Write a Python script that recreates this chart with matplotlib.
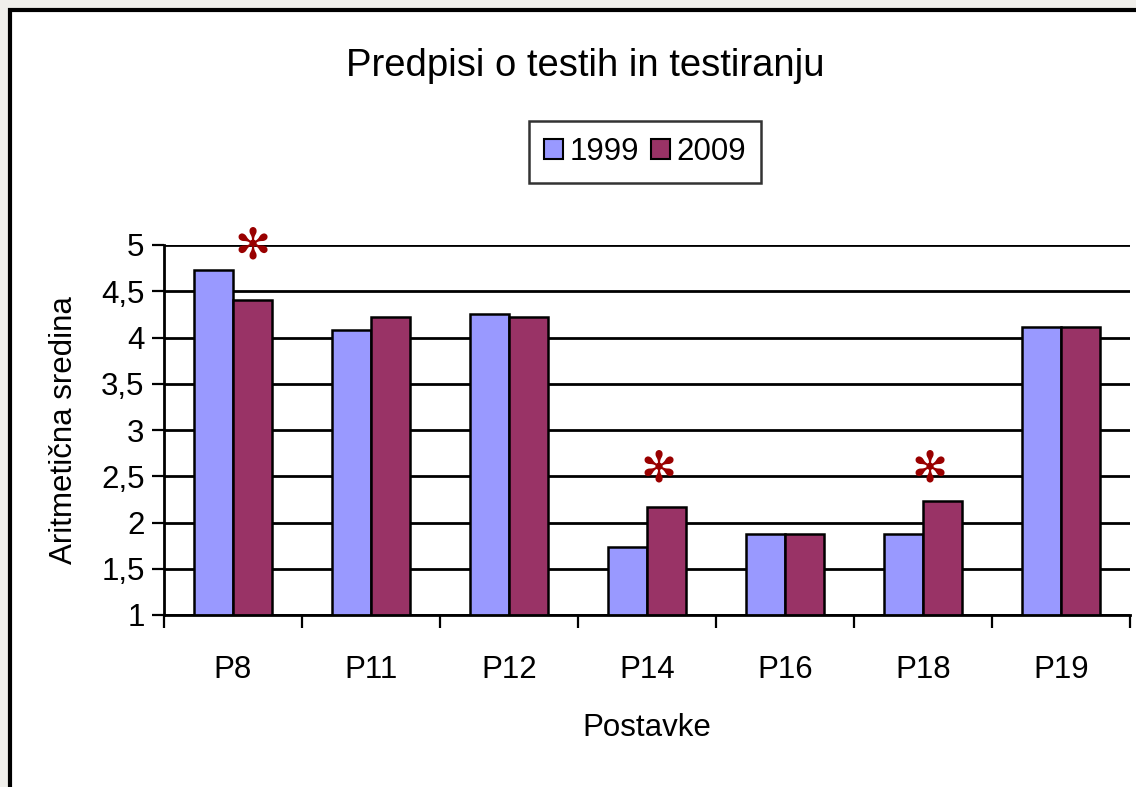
import matplotlib
matplotlib.use("Agg")
import matplotlib.pyplot as plt
from matplotlib.patches import Rectangle, Patch
import numpy as np

# data
categories = ["P8", "P11", "P12", "P14", "P16", "P18", "P19"]
vals_1999 = [4.73, 4.08, 4.25, 1.73, 1.88, 1.88, 4.11]
vals_2009 = [4.41, 4.22, 4.22, 2.17, 1.88, 2.23, 4.11]
series_names = ["1999", "2009"]
starred = ["P8", "P14", "P18"]   # significant differences
yticks = [1, 1.5, 2, 2.5, 3, 3.5, 4, 4.5, 5]
ytick_labels = ["1", "1,5", "2", "2,5", "3", "3,5", "4", "4,5", "5"]

c1999 = "#9999FF"
c2009 = "#993366"
star_color = "#990000"

plt.rcParams["font.family"] = ["Liberation Sans", "DejaVu Sans"]

W, H = 1136, 787
fig = plt.figure(figsize=(W / 100, H / 100), dpi=100)
fig.patch.set_facecolor("#f0efeb")

# white chart area with black frame (runs off right and bottom)
frame = Rectangle((10 / W, -0.2), 1.2, 1.2 - 10 / H, transform=fig.transFigure,
                  facecolor="white", edgecolor="black", linewidth=3, zorder=-5)
fig.patches.append(frame)

ax = fig.add_axes([164 / W, 1 - 615 / H, (1130 - 164) / W, (615 - 245) / H])
ax.set_facecolor("none")
ax.set_zorder(2)

x = np.arange(len(categories))
w = 0.283
ax.bar(x - w / 2, vals_1999, w, bottom=0, color=c1999, edgecolor="black", linewidth=1.8, zorder=3)
ax.bar(x + w / 2, vals_2009, w, bottom=0, color=c2009, edgecolor="black", linewidth=1.8, zorder=3)

ax.set_ylim(1, 5)
ax.set_xlim(-0.5, len(categories) - 0.5)
ax.set_yticks(yticks)
ax.set_yticklabels(ytick_labels)
ax.set_xticks(x)
ax.set_xticklabels(categories)
ax.set_xticks(np.arange(-0.5, len(categories)), minor=True)
ax.tick_params(axis="x", which="major", length=0, pad=29, labelsize=22.5)
ax.tick_params(axis="x", which="minor", length=9, width=1.6, direction="out")
ax.tick_params(axis="y", length=9, width=1.6, direction="out", pad=5, labelsize=22.5)

ax.yaxis.grid(True, color="black", linewidth=2)
ax.set_axisbelow(True)
for s in ["top", "right"]:
    ax.spines[s].set_visible(False)
for s in ["left", "bottom"]:
    ax.spines[s].set_linewidth(2)
    ax.spines[s].set_zorder(4)

# asterisks above the 2009 bars
star_pos = {"P8": (0.14, 4.98), "P14": (0.08, 2.57), "P18": (0.05, 2.57)}
for name in starred:
    i = categories.index(name)
    dx, yy = star_pos[name]
    ax.text(i + dx, yy, "\u273B", color=star_color, fontsize=31, ha="center", va="center",
            family=["DejaVu Sans"], zorder=5)

ax.set_ylabel("Aritmetična sredina", fontsize=22.5, labelpad=16)
ax.set_xlabel("Postavke", fontsize=22.5, labelpad=20)

fig.text(585 / W, 1 - 66 / H, "Predpisi o testih in testiranju", fontsize=27.5,
         ha="center", va="center")

handles = [Patch(facecolor=c1999, edgecolor="black", linewidth=1.5),
           Patch(facecolor=c2009, edgecolor="black", linewidth=1.5)]
leg = fig.legend(handles, series_names, loc="center", bbox_to_anchor=(645 / W, 1 - 152 / H),
                 ncol=2, fontsize=22.5, frameon=True, fancybox=False, handlelength=0.6,
                 handleheight=0.6, handletextpad=0.2, columnspacing=0.4, borderpad=0.5,
                 borderaxespad=0)
leg.get_frame().set_edgecolor("black")
leg.get_frame().set_linewidth(1.8)

fig.savefig("out.png", dpi=100, facecolor=fig.get_facecolor())
